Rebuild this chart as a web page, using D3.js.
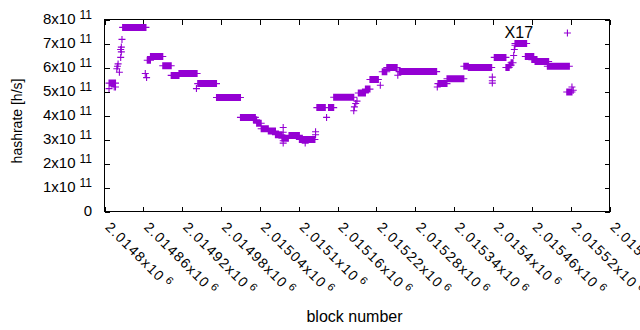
<!DOCTYPE html>
<html>
<head>
<meta charset="utf-8">
<script src="https://cdnjs.cloudflare.com/ajax/libs/d3/7.8.5/d3.min.js"></script>
<style>
  body { margin: 0; background: #fff; }
  svg { display: block; }
  text { font-family: "Liberation Sans", Arial, sans-serif; fill: #000; }
</style>
</head>
<body>
<div id="chart"></div>
<script>
// flat stretches (one estimate per block, constant over the run)
var runStart = [2014807, 2014828, 2014866, 2014871, 2014890, 2014903, 2014915, 2014944, 2014973, 2015010,
    2015030, 2015035, 2015042, 2015053, 2015064, 2015074, 2015085, 2015101, 2015128, 2015146,
    2015154, 2015192, 2015203, 2015210, 2015229, 2015236, 2015255, 2015315, 2015329, 2015355,
    2015362, 2015402, 2015420, 2015425, 2015428, 2015434, 2015450, 2015460, 2015465, 2015484, 2015514];
var runEnd = [2014817, 2014864, 2014871, 2014890, 2014903, 2014915, 2014943, 2014973, 2015010, 2015033,
    2015035, 2015042, 2015053, 2015064, 2015074, 2015084, 2015101, 2015125, 2015141, 2015154,
    2015185, 2015203, 2015210, 2015223, 2015236, 2015252, 2015313, 2015329, 2015355, 2015362,
    2015398, 2015420, 2015425, 2015428, 2015431, 2015452, 2015463, 2015468, 2015486, 2015518, 2015522];
var runValue = [5.35e11, 7.67e11, 6.30e11, 6.46e11, 6.07e11, 5.67e11, 5.75e11, 5.33e11, 4.75e11, 3.92e11,
    3.82e11, 3.68e11, 3.45e11, 3.35e11, 3.20e11, 3.05e11, 3.17e11, 3.00e11, 4.33e11, 4.33e11,
    4.76e11, 4.94e11, 5.10e11, 5.50e11, 5.82e11, 6.00e11, 5.83e11, 5.33e11, 5.53e11, 6.05e11,
    6.00e11, 6.42e11, 6.00e11, 6.10e11, 6.20e11, 7.00e11, 6.46e11, 6.33e11, 6.25e11, 6.05e11, 4.98e11];

// scattered single blocks
var singleBlock = [2014807, 2014817, 2014815, 2014819, 2014820, 2014821, 2014823, 2014825, 2014825, 2014826,
    2014826, 2014827, 2014863, 2014865, 2014942, 2015076, 2015076, 2015076, 2015076, 2015110,
    2015126, 2015126, 2015143, 2015185, 2015186, 2015188, 2015190, 2015226, 2015253, 2015314,
    2015399, 2015399, 2015399, 2015432, 2015433, 2015434, 2015515, 2015522, 2015524];
var singleValue = [5.12e11, 5.19e11, 5.19e11, 5.95e11, 6.05e11, 6.15e11, 5.80e11, 6.42e11, 6.75e11, 6.65e11,
    6.85e11, 7.17e11, 5.75e11, 5.58e11, 5.12e11, 3.50e11, 3.30e11, 2.95e11, 2.85e11, 2.85e11,
    3.32e11, 3.20e11, 3.92e11, 4.20e11, 4.36e11, 4.50e11, 4.60e11, 5.26e11, 5.68e11, 5.19e11,
    5.60e11, 5.45e11, 5.35e11, 6.50e11, 6.75e11, 6.93e11, 7.44e11, 5.19e11, 5.05e11];

var xTickLabels = ["2.0148", "2.01486", "2.01492", "2.01498", "2.01504", "2.0151", "2.01516",
    "2.01522", "2.01528", "2.01534", "2.0154", "2.01546", "2.01552", "2.01558"];
var yTickMantissa = [0, 1, 2, 3, 4, 5, 6, 7, 8];

var annotation = { text: "X17", block: 2015440 };

var W = 640, H = 330,
    plotL = 104.5, plotR = 609.5, plotT = 19.5, plotB = 211.5,
    color = "#9400d3";

var xTicks = xTickLabels.map(function(s) { return Math.round(+s * 1e6); });

var x = d3.scaleLinear().domain([xTicks[0], xTicks[xTicks.length - 1]]).range([plotL, plotR]);
var y = d3.scaleLinear().domain([0, 8e11]).range([plotB, plotT]);

var svg = d3.select("#chart").append("svg").attr("width", W).attr("height", H);

// build the point list from runs + singles
var points = [];
runStart.forEach(function(s, i) {
    for (var b = s; b <= runEnd[i]; b++) points.push([b, runValue[i]]);
});
singleBlock.forEach(function(b, i) { points.push([b, singleValue[i]]); });

// axes, ticks pointing inward, mirrored on top / right
var yTicks = yTickMantissa.map(function(m) { return m * 1e11; });
svg.append("g").attr("transform", "translate(0," + plotB + ")")
    .call(d3.axisBottom(x).tickValues(xTicks).tickSizeInner(-5).tickSizeOuter(0).tickFormat(""));
svg.append("g").attr("transform", "translate(0," + plotT + ")")
    .call(d3.axisTop(x).tickValues(xTicks).tickSizeInner(-5).tickSizeOuter(0).tickFormat(""));
svg.append("g").attr("transform", "translate(" + plotL + ",0)")
    .call(d3.axisLeft(y).tickValues(yTicks).tickSizeInner(-5).tickSizeOuter(0).tickFormat(""));
svg.append("g").attr("transform", "translate(" + plotR + ",0)")
    .call(d3.axisRight(y).tickValues(yTicks).tickSizeInner(-5).tickSizeOuter(0).tickFormat(""));
svg.selectAll(".domain").remove();
svg.selectAll(".tick line").attr("stroke", "#000").attr("shape-rendering", "crispEdges");
svg.append("rect")
    .attr("x", plotL).attr("y", plotT).attr("width", plotR - plotL).attr("height", plotB - plotT)
    .attr("fill", "none").attr("stroke", "#000").attr("shape-rendering", "crispEdges");

// y tick labels  Nx10^11
var yl = svg.append("g").selectAll("text").data(yTickMantissa).enter().append("text")
    .attr("x", 92).attr("y", function(d) { return y(d * 1e11) + 4; })
    .attr("text-anchor", "end").style("font-size", "15px");
yl.filter(function(d) { return d === 0; }).text("0");
yl.filter(function(d) { return d !== 0; }).each(function(d) {
    var t = d3.select(this);
    t.append("tspan").text(d + "x10");
    t.append("tspan").attr("dx", 4).attr("dy", -5).style("font-size", "12px").text("11");
});

// x tick labels, rotated
xTickLabels.forEach(function(s, i) {
    var t = svg.append("text")
        .attr("transform", "translate(" + x(xTicks[i]) + ",228) rotate(45)")
        .style("font-size", "14px").style("letter-spacing", "1.3px");
    t.append("tspan").text(s + "x10");
    t.append("tspan").attr("dx", 3).attr("dy", -5).style("font-size", "11px").text("6");
});

// data: + markers
var s = 3.5;
svg.append("path")
    .attr("d", points.map(function(p) {
        var px = x(p[0]), py = y(p[1]);
        return "M" + (px - s) + "," + py + "H" + (px + s) + "M" + px + "," + (py - s) + "V" + (py + s);
    }).join(""))
    .attr("fill", "none").attr("stroke", color).attr("stroke-width", 1.1);

svg.append("text")
    .attr("x", x(annotation.block)).attr("y", 37.5)
    .attr("text-anchor", "middle").style("font-size", "16px")
    .text(annotation.text);

svg.append("text")
    .attr("x", 354.5).attr("y", 321.5)
    .attr("text-anchor", "middle").style("font-size", "16px")
    .text("block number");

svg.append("text")
    .attr("transform", "translate(22,121) rotate(-90)")
    .attr("text-anchor", "middle").style("font-size", "14px")
    .text("hashrate [h/s]");
</script>
</body>
</html>
